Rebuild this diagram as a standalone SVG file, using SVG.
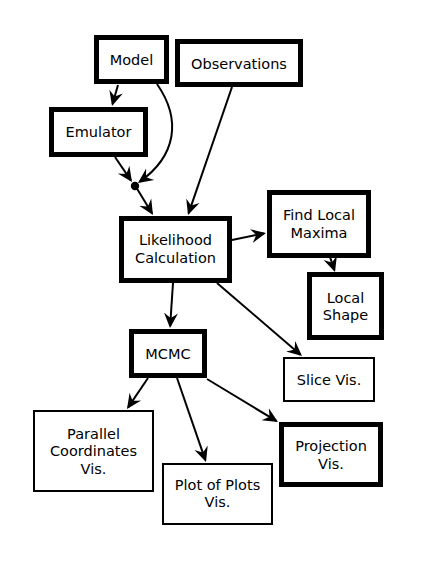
<svg xmlns="http://www.w3.org/2000/svg" width="422" height="563" viewBox="0 0 422 563">
<style>
.thick{fill:#fff;stroke:#000;stroke-width:5}
.thin{fill:#fff;stroke:#000;stroke-width:2}
text{font-family:"DejaVu Sans","Liberation Sans",sans-serif;font-size:14.5px;fill:#000;text-anchor:middle}
.edge{fill:none;stroke:#000;stroke-width:2;marker-end:url(#ah)}
</style>
<defs>
<marker id="ah" markerUnits="userSpaceOnUse" markerWidth="18" markerHeight="18" viewBox="0 -9 18 18" refX="13" refY="0" orient="auto">
<path d="M15,0 L0,-7 Q3.5,-2.5 5,0 Q3.5,2.5 0,7 Z" fill="#000"/>
</marker>
</defs>
<rect width="422" height="563" fill="#fff"/>
<g id="connectors">
<path class="edge" d="M118,85 L112.55,104.08"/>
<path class="edge" d="M157,84 C182,120 176,156 139.6,181.8"/>
<path class="edge" d="M115,157 L130.88,180.35"/>
<path class="edge" d="M136,187 L151.96,213.29"/>
<path class="edge" d="M232,87 L188.65,213.11"/>
<path class="edge" d="M232,240 L264.04,233.4"/>
<path class="edge" d="M319,224 L334.37,270.1"/>
<path class="edge" d="M173,283 L170.13,326"/>
<path class="edge" d="M217,283 L300.48,354.7"/>
<path class="edge" d="M148,378 L128.12,407.34"/>
<path class="edge" d="M177,378 L205.35,460.11"/>
<path class="edge" d="M207,379 L276.29,420.96"/>
<circle cx="135" cy="186" r="4.2" fill="#000"/>
</g>
<g id="model"><rect class="thick" x="96.5" y="37.5" width="70" height="44"/><text x="131.5" y="64.5">Model</text></g>
<g id="observations"><rect class="thick" x="177.5" y="41.5" width="123" height="43"/><text x="239" y="68.5">Observations</text></g>
<g id="emulator"><rect class="thick" x="51.5" y="109.5" width="94" height="45"/><text x="98.5" y="137">Emulator</text></g>
<g id="likelihood"><rect class="thick" x="121.5" y="218.5" width="108" height="62"/><text x="175.5" y="245">Likelihood</text><text x="175.5" y="263">Calculation</text></g>
<g id="findmax"><rect class="thick" x="269.5" y="192.5" width="99" height="63"/><text x="319" y="220">Find Local</text><text x="319" y="237.5">Maxima</text></g>
<g id="localshape"><rect class="thick" x="309.5" y="274.5" width="72" height="63"/><text x="345.5" y="302.5">Local</text><text x="345.5" y="320">Shape</text></g>
<g id="mcmc"><rect class="thick" x="131.5" y="331.5" width="73" height="44"/><text x="168" y="358.5">MCMC</text></g>
<g id="slice"><rect class="thin" x="284" y="358" width="90" height="43"/><text x="329" y="384.5">Slice Vis.</text></g>
<g id="parallel"><rect class="thin" x="34" y="411" width="119" height="80"/><text x="93.5" y="438.5">Parallel</text><text x="93.5" y="456">Coordinates</text><text x="93.5" y="473.5">Vis.</text></g>
<g id="plotofplots"><rect class="thin" x="163" y="464" width="109" height="60"/><text x="217.5" y="489.5">Plot of Plots</text><text x="217.5" y="507">Vis.</text></g>
<g id="projection"><rect class="thick" x="281.5" y="424.5" width="99" height="60"/><text x="331" y="451">Projection</text><text x="331" y="468.5">Vis.</text></g>
</svg>
